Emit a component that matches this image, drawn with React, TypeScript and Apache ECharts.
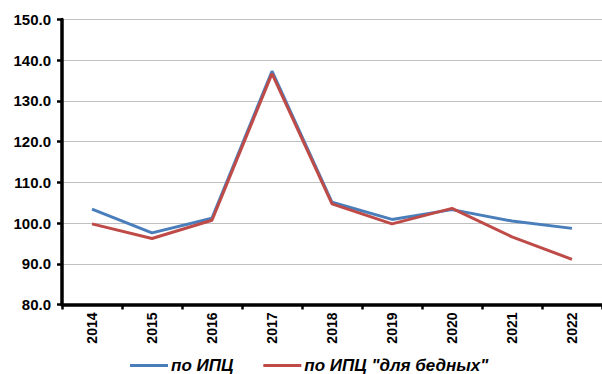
import React, { useEffect, useRef } from "react";
import * as echarts from "echarts";

// Years on the category axis
const years = ["2014", "2015", "2016", "2017", "2018", "2019", "2020", "2021", "2022"];

// Index by the consumer price index
const cpiValues = [103.4, 97.6, 101.2, 137.3, 105.1, 100.9, 103.3, 100.5, 98.7];

// Index by the "poor people's" consumer price index
const poorCpiValues = [99.8, 96.2, 100.7, 136.7, 104.7, 99.8, 103.6, 96.6, 91.1];

const seriesNames = ["по ИПЦ", 'по ИПЦ "для бедных"'];

const yMin = 80;
const yMax = 150;
const yStep = 10;

const FONT = "'Liberation Sans', Arial, sans-serif";
const BLUE = "#4a7ebb";
const RED = "#be4b48";
const AXIS = "#000000";

export default function App() {
  const ref = useRef<HTMLDivElement>(null);

  useEffect(() => {
    document.body.style.margin = "0";
    if (!ref.current) return;
    const chart = echarts.init(ref.current, undefined, { renderer: "svg" });

    chart.setOption({
      animation: false,
      backgroundColor: "#ffffff",
      textStyle: { fontFamily: FONT },
      grid: { left: 62, top: 19.5, width: 549, height: 285, containLabel: false },
      legend: {
        left: 125,
        top: 352,
        icon: "rect",
        itemWidth: 38,
        itemHeight: 3,
        itemGap: 30,
        textStyle: {
          fontFamily: FONT,
          fontSize: 17,
          fontWeight: "bold",
          fontStyle: "italic",
          color: "#000000",
          padding: [0, 0, 0, -2],
        },
        data: seriesNames,
      },
      xAxis: {
        type: "category",
        data: years,
        boundaryGap: true,
        axisLine: { show: true, onZero: false, lineStyle: { color: AXIS, width: 3.5 } },
        axisTick: { show: true, inside: false, length: 5, lineStyle: { color: AXIS, width: 2.5 } },
        axisLabel: {
          rotate: 90,
          margin: 8,
          fontFamily: FONT,
          fontSize: 14,
          fontWeight: "bold",
          color: "#000000",
        },
        splitLine: { show: false },
        z: 5,
      },
      yAxis: {
        type: "value",
        min: yMin,
        max: yMax,
        interval: yStep,
        axisLine: { show: true, lineStyle: { color: AXIS, width: 3.5 } },
        axisTick: { show: true, inside: false, length: 5, lineStyle: { color: AXIS, width: 2.5 } },
        axisLabel: {
          margin: 11,
          fontFamily: FONT,
          fontSize: 15,
          fontWeight: "bold",
          color: "#000000",
          formatter: (v: number) => v.toFixed(1),
        },
        splitLine: { show: true, showMinLine: false, lineStyle: { color: "#c0c0c0", width: 1.2 } },
      },
      series: [
        {
          name: seriesNames[0],
          type: "line",
          data: cpiValues,
          symbol: "none",
          showSymbol: false,
          lineStyle: { color: BLUE, width: 3 },
          itemStyle: { color: BLUE },
          z: 2,
        },
        {
          name: seriesNames[1],
          type: "line",
          data: poorCpiValues,
          symbol: "none",
          showSymbol: false,
          lineStyle: { color: RED, width: 3 },
          itemStyle: { color: RED },
          z: 3,
        },
      ],
    });

    return () => chart.dispose();
  }, []);

  return <div ref={ref} style={{ width: 602, height: 374 }} />;
}
